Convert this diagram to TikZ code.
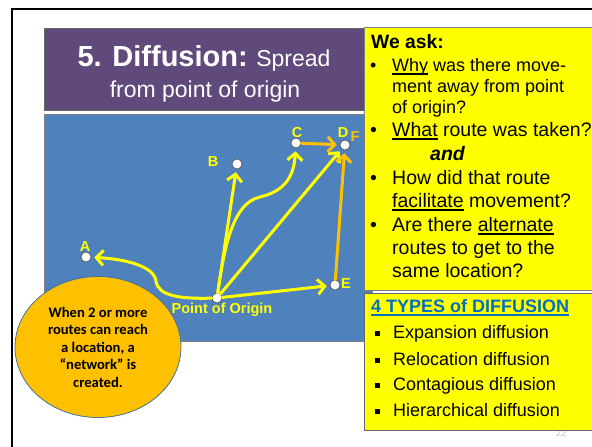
\documentclass[tikz,border=0pt]{standalone}
\usepackage{fontspec}
\setmainfont{Liberation Sans}
\newfontfamily\notefont{Carlito}
\usetikzlibrary{arrows.meta,shapes.geometric}

\definecolor{titlepurple}{HTML}{604A7B}
\definecolor{mapblue}{HTML}{4F81BD}
\definecolor{routeyellow}{HTML}{FFFF00}
\definecolor{routeorange}{HTML}{FFC000}
\definecolor{typesblue}{HTML}{0070C0}
\definecolor{boxgray}{HTML}{7F7F7F}
\definecolor{noteedge}{HTML}{41719C}

% thick underline, as the slide draws it
\newcommand\ulword[1]{\setbox0\hbox{#1}\rlap{\rule[-3.6pt]{\wd0}{1.4pt}}\box0\relax}

\tikzset{
  place/.style={circle, draw=black!70, line width=0.6pt, fill=white, minimum size=10pt, inner sep=0pt},
  placelabel/.style={text=routeyellow, inner sep=0pt, font=\fontsize{14.5}{16}\selectfont\bfseries},
  route/.style={draw=routeyellow, line width=3pt, line cap=round, line join=round,
    -{Straight Barb[length=7pt,width=15pt]}, shorten >=3pt, shorten <=0pt},
  titletxt/.style={text=white, anchor=base, inner sep=0pt, font=\fontsize{23}{26}\selectfont},
  asktxt/.style={anchor=base west, inner sep=0pt, font=\fontsize{19.5}{22}\selectfont},
  typetxt/.style={anchor=base west, inner sep=0pt, font=\fontsize{18}{21}\selectfont},
  notebox/.style={ellipse, draw=noteedge, line width=0.8pt, fill=routeorange,
    minimum width=166pt, minimum height=141pt, inner sep=0pt, align=center,
    font=\notefont\bfseries\fontsize{14.6}{17.5}\selectfont}
}

\begin{document}
\begin{tikzpicture}[x=1pt, y=-1pt]

  %% ==== frame ====
  \draw[line width=2.2pt] (12,447) -- (12,9) -- (600,9);

  %% ==== title ====
  \draw[fill=titlepurple, draw=black!60, line width=0.7pt] (44,28) rectangle (372,110);
  \node[titletxt] (title1) at (204,66) {{\fontsize{29}{32}\selectfont\bfseries 5. Diffusion:} Spread};
  \node[titletxt] (title2) at (205,97) {from point of origin};

  %% ==== map ====
  \draw[fill=mapblue, draw=black!50, line width=0.6pt] (44,114) rectangle (372,341);

  \node[place] (A) at (86,257) {};
  \node[place] (B) at (237,164) {};
  \node[place] (C) at (296,143) {};
  \node[place] (D) at (345,145) {};
  \node[place] (E) at (335,285) {};
  \node[place] (O) at (217,298) {};

  % routes out of the origin
  \draw[route] (O) .. controls (180,299) and (158,296) .. (156,281) .. controls (154,266) and (125,259) .. (A);
  \draw[route] (O) -- (B);
  \draw[route] (O) .. controls (224,250) and (232,203) .. (260,197) .. controls (286,191) and (294,175) .. (C);
  \draw[route] (O) -- (D);
  \draw[route] (O) -- (E);
  % second leg
  \draw[route, draw=routeorange] (C) -- (D);
  \draw[route, draw=routeorange] (E) -- (D);

  \node[placelabel] (labA) at (85,247) {A};
  \node[placelabel] (labB) at (213,162) {B};
  \node[placelabel] (labC) at (297,133) {C};
  \node[placelabel] (labD) at (343,133) {D};
  \node[placelabel, text=routeorange] (labF) at (355,137) {F};
  \node[placelabel] (labE) at (346,284) {E};
  \node[placelabel] (labO) at (222,310) {Point of Origin};

  %% ==== note ====
  \node[notebox] (note) at (98,347) {When 2 or more\\routes can reach\\a location, a\\“network” is\\created.};

  %% ==== right boxes ====
  \node[text=black!25, inner sep=0pt, font=\fontsize{9}{10}\selectfont] (pagenum) at (561,433) {22};
  \draw[fill=routeyellow, draw=boxgray, line width=0.8pt] (364,27) rectangle (600,290);
  \draw[fill=routeyellow, draw=black!60, line width=0.8pt] (364,293) rectangle (600,430);

  \node[asktxt, font=\fontsize{19.3}{22}\selectfont\bfseries] (ask) at (371,48) {We ask:};
  \node[asktxt, font=\fontsize{18}{21}\selectfont] (bul1) at (370,71) {\textbullet};
  \node[asktxt, font=\fontsize{18}{21}\selectfont] (q1) at (392,71) {\ulword{Why} was there move-};
  \node[asktxt, font=\fontsize{18}{21}\selectfont] (q2) at (392,92) {ment away from point};
  \node[asktxt, font=\fontsize{18}{21}\selectfont] (q3) at (392,113) {of origin?};
  \node[asktxt] (bul2) at (370,136) {\textbullet};
  \node[asktxt] (q4) at (392,136) {\ulword{What} route was taken?};
  \node[asktxt, font=\fontsize{19.5}{22}\selectfont\bfseries\itshape] (q5) at (430,160) {and};
  \node[asktxt] (bul3) at (370,184) {\textbullet};
  \node[asktxt] (q6) at (392,184) {How did that route};
  \node[asktxt] (q7) at (392,207) {\ulword{facilitate} movement?};
  \node[asktxt] (bul4) at (370,231) {\textbullet};
  \node[asktxt] (q8) at (392,231) {Are there \ulword{alternate}};
  \node[asktxt] (q9) at (392,254) {routes to get to the};
  \node[asktxt] (q10) at (392,277) {same location?};

  \node[typetxt, text=typesblue, font=\fontsize{18}{21}\selectfont\bfseries] (types) at (371,312) {\ulword{4 TYPES of DIFFUSION}};
  \node[typetxt] (sq1) at (375,338) {\rule[2pt]{5pt}{5pt}};
  \node[typetxt] (t1) at (393,338) {Expansion diffusion};
  \node[typetxt] (sq2) at (375,365) {\rule[2pt]{5pt}{5pt}};
  \node[typetxt] (t2) at (393,365) {Relocation diffusion};
  \node[typetxt] (sq3) at (375,390) {\rule[2pt]{5pt}{5pt}};
  \node[typetxt] (t3) at (393,390) {Contagious diffusion};
  \node[typetxt] (sq4) at (375,416) {\rule[2pt]{5pt}{5pt}};
  \node[typetxt] (t4) at (393,416) {Hierarchical diffusion};

  \pgfresetboundingbox
  \path[use as bounding box] (0,0) rectangle (592,447);
\end{tikzpicture}
\end{document}
